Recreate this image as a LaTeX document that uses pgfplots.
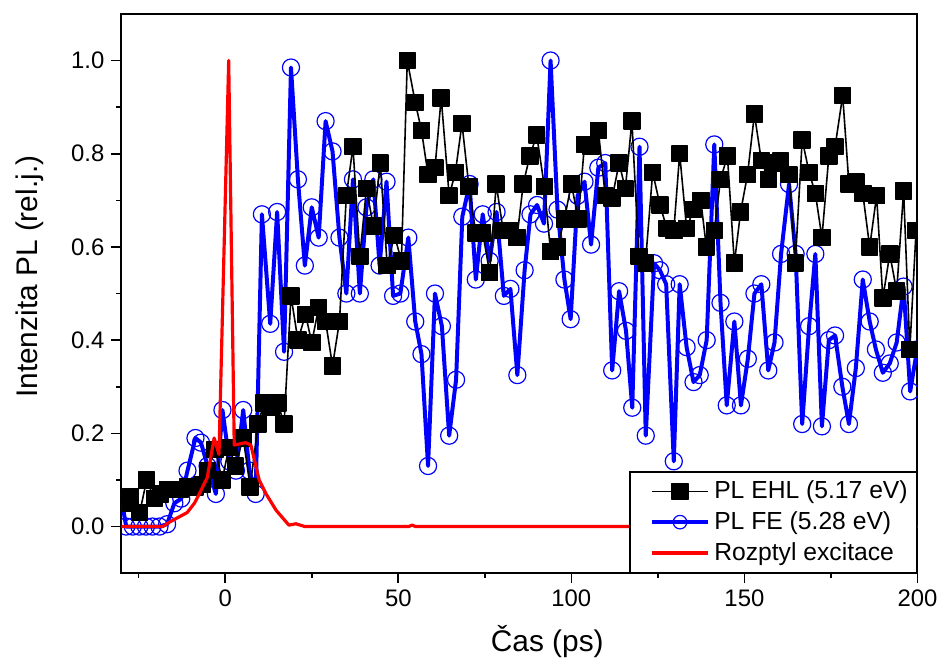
\documentclass[border=0pt]{standalone}
\usepackage{fontspec}
\setmainfont{Liberation Sans}
\usepackage{pgfplots}
\pgfplotsset{compat=1.18}
\begin{document}
\begin{tikzpicture}
\begin{axis}[
  scale only axis, width=400pt, height=281pt,
  xmin=-30, xmax=200, ymin=-0.1, ymax=1.1,
  xtick={0,50,100,150,200}, minor xtick={-25,25,75,125,175},
  ytick={0,0.2,0.4,0.6,0.8,1.0}, minor ytick={0.1,0.3,0.5,0.7,0.9},
  tick align=outside, xtick pos=bottom, ytick pos=left,
  major tick length=5pt, minor tick length=2.5pt,
  every tick/.style={black, line width=0.8pt},
  axis line style={line width=1pt},
  /pgf/number format/assume math mode=true,
  yticklabel style={/pgf/number format/.cd, fixed, fixed zerofill, precision=1},
  tick label style={font=\fontsize{12}{14}\selectfont},
  xlabel={Čas (ps)}, ylabel={Intenzita PL (rel.j.)},
  label style={font=\fontsize{15}{17}\selectfont},
  xlabel style={at={(axis description cs:0.535,-0.123)}, anchor=center},
  ylabel style={at={(axis description cs:-0.115,0.53)}, anchor=center},
  clip marker paths=true,
  legend style={at={(1,0)}, anchor=south east, draw=black, line width=0.8pt,
    font=\fontsize{12.4}{15}\selectfont, legend cell align=left,
    inner sep=2.5pt, row sep=1pt},
  legend image code/.code={\path (-0.26cm,0cm); \draw[mark repeat=2,mark phase=2] plot coordinates {(0cm,0cm) (0.5cm,0cm) (1cm,0cm)};},
]
% FE (blue)
\addplot[forget plot, color=blue, line width=2pt, line join=round, mark=o, mark size=4.3pt,
  mark options={fill=white, line width=0.6pt}] coordinates {
(-29.8,0.05) (-28.6,0.0) (-26.7,0.0) (-24.8,0.0) (-22.9,0.0) (-21.0,0.0) (-19.0,0.0)
(-16.8,0.005) (-14.7,0.05) (-12.7,0.06) (-10.9,0.12) (-8.6,0.19) (-7.0,0.18) (-5.1,0.13)
(-2.7,0.07) (-0.8,0.25) (1.2,0.14) (3.1,0.12) (5.2,0.25) (7.0,0.12) (8.8,0.07)
(10.6,0.67) (13.0,0.435) (15.0,0.675) (17.0,0.375) (19.0,0.985) (21.0,0.745) (23.0,0.56)
(25.0,0.685) (27.0,0.62) (29.0,0.87) (31.0,0.805) (33.0,0.62) (35.0,0.50) (36.9,0.745)
(38.9,0.50) (40.8,0.685) (42.8,0.745) (44.6,0.56) (46.6,0.74) (48.5,0.495) (50.6,0.50)
(52.9,0.62) (54.9,0.44) (56.7,0.37) (58.6,0.13) (60.6,0.50) (62.6,0.43) (64.7,0.195)
(66.7,0.315) (68.5,0.665) (70.6,0.735) (72.4,0.53) (74.4,0.67) (76.4,0.57) (78.4,0.675)
(80.5,0.495) (82.4,0.51) (84.4,0.325) (86.5,0.55) (88.2,0.67) (90.1,0.69) (92.1,0.65)
(94.0,1.0) (96.0,0.68) (98.0,0.53) (99.8,0.445) (101.8,0.71) (103.8,0.74) (105.7,0.605)
(107.8,0.77) (109.8,0.78) (111.8,0.335) (113.8,0.505) (115.8,0.42) (117.6,0.255) (119.7,0.815)
(121.5,0.195) (123.9,0.565) (125.6,0.55) (127.4,0.52) (129.6,0.14) (131.3,0.52) (133.3,0.385)
(135.3,0.31) (137.1,0.325) (139.1,0.40) (141.3,0.82) (143.1,0.48) (144.9,0.26) (147.1,0.44)
(149.0,0.26) (151.0,0.36) (152.9,0.50) (154.9,0.52) (156.9,0.335) (158.7,0.395) (160.6,0.585)
(162.9,0.735) (164.8,0.585) (166.7,0.22) (168.7,0.43) (170.5,0.585) (172.4,0.215) (174.4,0.40)
(176.2,0.41) (178.3,0.30) (180.2,0.22) (182.2,0.34) (184.2,0.53) (186.2,0.44) (188.0,0.38)
(190.0,0.33) (192.0,0.35) (194.0,0.395) (196.0,0.515) (197.9,0.29) (199.9,0.38)
};
% EHL (black)
\addplot[color=black, line width=0.8pt, line join=round, mark=square*, mark size=4pt,
  mark options={solid, fill=black}] coordinates {
(-29.0,0.05) (-27.3,0.065) (-24.7,0.03) (-22.7,0.10) (-20.5,0.06) (-18.7,0.07) (-16.7,0.08)
(-14.7,0.08) (-12.9,0.08) (-10.9,0.085) (-8.7,0.085) (-6.7,0.09) (-5.1,0.12) (-2.9,0.165)
(-0.9,0.10) (1.1,0.17) (2.9,0.13) (5.2,0.19) (7.2,0.085) (9.5,0.22) (11.2,0.265)
(13.2,0.255) (15.2,0.265) (17.0,0.22) (19.0,0.495) (21.0,0.40) (23.2,0.455) (25.0,0.395)
(27.0,0.47) (29.0,0.44) (31.0,0.345) (33.0,0.44) (35.0,0.71) (36.9,0.815) (38.9,0.58)
(40.8,0.725) (42.8,0.645) (44.8,0.78) (46.8,0.56) (48.9,0.625) (50.9,0.57) (52.6,1.0)
(54.9,0.91) (56.7,0.85) (58.6,0.755) (60.6,0.77) (62.4,0.92) (64.7,0.71) (66.5,0.76)
(68.4,0.865) (70.4,0.73) (72.4,0.63) (74.4,0.63) (76.4,0.545) (78.3,0.735) (80.3,0.635)
(82.3,0.635) (84.3,0.62) (86.1,0.735) (88.0,0.795) (90.0,0.84) (92.2,0.73) (94.0,0.59)
(96.0,0.60) (98.0,0.66) (100.0,0.735) (102.0,0.66) (103.8,0.82) (105.7,0.815) (107.8,0.85)
(109.8,0.71) (111.8,0.705) (113.8,0.78) (115.6,0.725) (117.5,0.87) (119.5,0.58) (121.4,0.565)
(123.5,0.76) (125.6,0.69) (127.6,0.64) (129.6,0.635) (131.3,0.80) (133.3,0.64) (135.3,0.68)
(137.4,0.70) (139.0,0.60) (141.3,0.635) (143.1,0.745) (145.1,0.795) (147.1,0.565) (148.9,0.675)
(150.9,0.755) (152.9,0.885) (154.9,0.785) (156.9,0.745) (158.6,0.78) (160.5,0.785) (162.9,0.755)
(164.7,0.565) (166.7,0.83) (168.7,0.76) (170.5,0.715) (172.4,0.62) (174.4,0.795) (176.2,0.815)
(178.4,0.925) (180.2,0.735) (182.2,0.74) (184.2,0.715) (186.2,0.60) (188.2,0.71) (190.0,0.49)
(192.0,0.585) (194.0,0.505) (196.0,0.72) (197.8,0.38) (199.6,0.635)
};
\addlegendentry{PL EHL (5.17 eV)}
\addlegendimage{color=blue, line width=2pt, mark=o, mark size=3.4pt, mark options={fill=white, line width=0.6pt}}
\addlegendentry{PL FE (5.28 eV)}
% excitation (red)
\addplot[color=red, line width=1.6pt, line join=round, no marks] coordinates {
(-30,0) (-18,0) (-16,0.01) (-11,0.03) (-8.9,0.05) (-7.5,0.07) (-5.2,0.105) (-3.2,0.19)
(-1.8,0.155) (1.0,1.0) (2.6,0.175) (5.9,0.18) (7.4,0.175) (9.8,0.10) (11.8,0.07)
(14.7,0.035) (18.4,0.003) (20.4,0.006) (23,0) (53,0) (54,0.003) (55,0) (200,0)
};
\addlegendentry{Rozptyl excitace}
\end{axis}
\useasboundingbox ([shift={(-61pt,-44pt)}]current axis.south west) rectangle ([shift={(11pt,7pt)}]current axis.north east);
\end{tikzpicture}
\end{document}
